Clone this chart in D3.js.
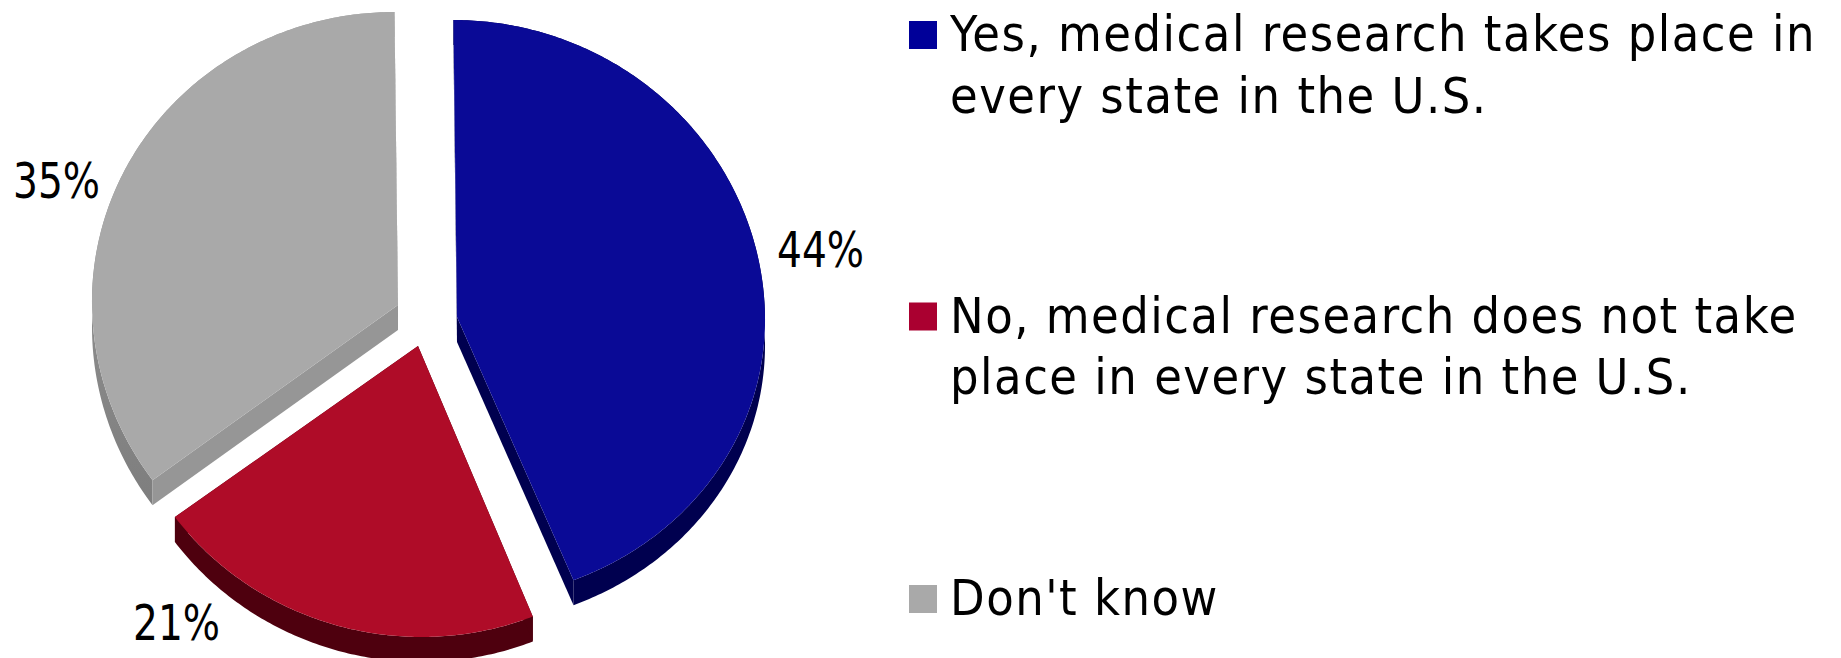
<!DOCTYPE html>
<html>
<head>
<meta charset="utf-8">
<script src="https://cdn.jsdelivr.net/npm/d3@7/dist/d3.min.js"></script>
<style>
html,body{margin:0;padding:0;background:#fff}
svg{display:block}
text{font-family:"DejaVu Sans",sans-serif;font-stretch:condensed;fill:#000}
</style>
</head>
<body>
<svg id="chart" width="1841" height="658"></svg>
<script>
// Survey responses, in clockwise order from twelve o'clock
const categories = ["Yes", "No", "Don't know"];
const shares = [44, 21, 35];
const legendLines = [
  ["Yes, medical research takes place in", "every state in the U.S."],
  ["No, medical research does not take", "place in every state in the U.S."],
  ["Don't know"]
];

const topColors = ["#0A0A96", "#AF0C28", "#A9A9A9"];
const swatchColors = ["#000099", "#AA0030", "#A9A9A9"];
const edgeColors = ["#00004F", "#4E000E", "#969696"];
const rimColors = ["#00004F", "#4E000E", "url(#grayRim)"];

// Exploded wedge apexes on the page, and each wedge's disc radii
const apexes = [[457, 317], [418, 346], [398, 305]];
const radiiX = [308, 303, 306];
const radiiAbove = [297, 295, 293];
const radiiBelow = [283, 291, 298];
const labelAnchors = [[777, 267], [133, 640], [13, 197.5]];
const legendTops = [21, 302.5, 585];

const depth = 25, shear = 0.012;
const fontSize = 50, lineGap = 61.5;

const svg = d3.select("#chart");

const grad = svg.append("defs").append("linearGradient")
  .attr("id", "grayRim").attr("x1", 0).attr("x2", 0).attr("y1", 0).attr("y2", 1);
grad.append("stop").attr("offset", "0%").attr("stop-color", "#A0A0A0");
grad.append("stop").attr("offset", "100%").attr("stop-color", "#7E7E7E");

const arcs = d3.pie().sort(null).value(d => d)(shares);

// Tilted-disc projection: angle measured clockwise from the top of the disc
function project(i, angle, drop) {
  const [cx, cy] = apexes[i];
  const c = Math.cos(angle), s = Math.sin(angle);
  const dy = c >= 0 ? -radiiAbove[i] * c : -radiiBelow[i] * c;
  return [cx + radiiX[i] * s + shear * dy, cy + dy + drop];
}

const path = d3.line();

const wedges = svg.selectAll("g.wedge").data(arcs).join("g").attr("class", "wedge");

wedges.each(function (d, i) {
  const g = d3.select(this);
  const n = Math.ceil((d.endAngle - d.startAngle) * 90);
  const rim = d3.range(n + 1).map(k => d.startAngle + (d.endAngle - d.startAngle) * k / n);
  const [ax, ay] = apexes[i];

  // Outer wall
  const upper = rim.map(a => project(i, a, 0));
  const lower = rim.map(a => project(i, a, depth)).reverse();
  g.append("path").attr("d", path(upper.concat(lower)) + "Z").attr("fill", rimColors[i]);

  // Cut walls running back to the apex
  [d.startAngle, d.endAngle].forEach(a => {
    const e0 = project(i, a, 0), e1 = project(i, a, depth);
    g.append("path")
      .attr("d", path([[ax, ay], e0, e1, [ax, ay + depth]]) + "Z")
      .attr("fill", edgeColors[i]);
  });

  // Top face
  g.append("path").attr("d", path([[ax, ay], ...upper]) + "Z").attr("fill", topColors[i]);
});

// Percentage labels, squeezed slightly to a narrower set width
svg.selectAll("text.share").data(shares).join("text")
  .attr("class", "share")
  .attr("x", (d, i) => labelAnchors[i][0])
  .attr("y", (d, i) => labelAnchors[i][1])
  .attr("font-size", fontSize)
  .attr("textLength", 87)
  .attr("lengthAdjust", "spacingAndGlyphs")
  .text(d => d + "%");

// Legend
const legend = svg.selectAll("g.entry").data(categories).join("g").attr("class", "entry");
legend.append("rect")
  .attr("x", 909).attr("y", (d, i) => legendTops[i])
  .attr("width", 28).attr("height", 28)
  .attr("fill", (d, i) => swatchColors[i]);
legend.each(function (d, i) {
  d3.select(this).selectAll("text").data(legendLines[i]).join("text")
    .attr("x", 950)
    .attr("y", (t, j) => legendTops[i] + 30 + j * lineGap)
    .attr("font-size", fontSize)
    .attr("letter-spacing", 1.5)
    .text(t => t);
});
</script>
</body>
</html>
